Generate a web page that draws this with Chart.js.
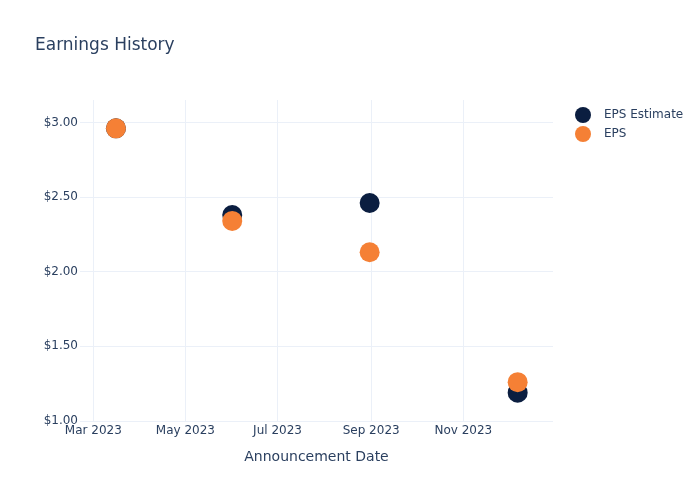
<!DOCTYPE html>
<html>
<head>
<meta charset="utf-8">
<title>Earnings History</title>
<script src="https://cdn.jsdelivr.net/npm/chart.js@4.4.1/dist/chart.umd.min.js"></script>
<style>
  body { margin: 0; background: #fff; }
</style>
</head>
<body>
<canvas id="earnings" width="700" height="500"></canvas>
<script>
// Quarterly announcements
const announceDates = ["2023-03-16", "2023-06-01", "2023-08-31", "2023-12-07"]
const epsEstimate = [2.96, 2.38, 2.46, 1.19]
const epsActual = [2.96, 2.34, 2.13, 1.26]

// Axis ticks
const xTickDates = ["2023-03-01", "2023-05-01", "2023-07-01", "2023-09-01", "2023-11-01"]
const xTickLabels = ["Mar 2023", "May 2023", "Jul 2023", "Sep 2023", "Nov 2023"]
const yTickValues = [1, 1.5, 2, 2.5, 3]
const yTickLabels = ["$1.00", "$1.50", "$2.00", "$2.50", "$3.00"]

const textColor = "#2a3f5f"
const gridColor = "#ebf0f8"
const fontFamily = '"DejaVu Sans", Verdana, sans-serif'

// Days since epoch, so a linear axis can stand in for a time axis
let dayNum = function(str) {
  let p = str.split("-").map(Number)
  return Date.UTC(p[0], p[1] - 1, p[2]) / 86400000
}

let toPoints = function(values) {
  return announceDates.map((d, i) => ({ x: dayNum(d), y: values[i] }))
}

Chart.defaults.font.family = fontFamily
Chart.defaults.font.size = 12
Chart.defaults.color = textColor

// Legend drawn to the right of the plot, plotly style
const sideLegend = {
  id: "sideLegend",
  afterDraw(chart) {
    let ctx = chart.ctx
    let area = chart.chartArea
    ctx.save()
    ctx.font = "12px " + fontFamily
    ctx.textBaseline = "middle"
    ctx.textAlign = "left"
    chart.data.datasets.forEach((ds, i) => {
      let y = area.top + 15 + i * 19
      ctx.fillStyle = ds.backgroundColor
      ctx.beginPath()
      ctx.arc(area.right + 30, y, 8, 0, Math.PI * 2)
      ctx.fill()
      ctx.fillStyle = textColor
      ctx.fillText(ds.label, area.right + 51, y)
    })
    ctx.restore()
  }
}

let config = {
  type: "scatter",
  data: {
    datasets: [{
      label: "EPS Estimate",
      data: toPoints(epsEstimate),
      backgroundColor: "#0b1e40",
      borderWidth: 0,
      pointRadius: 10,
      order: 1
    }, {
      label: "EPS",
      data: toPoints(epsActual),
      backgroundColor: "#f58035",
      borderWidth: 0,
      pointRadius: 10,
      order: 0
    }]
  },
  options: {
    responsive: false,
    animation: false,
    layout: {
      padding: { left: 35, right: 147, top: 0, bottom: 34.6 }
    },
    plugins: {
      legend: { display: false },
      tooltip: { enabled: false },
      title: {
        display: true,
        text: "Earnings History",
        align: "start",
        color: textColor,
        font: { size: 17, weight: "normal" },
        padding: { top: 35, bottom: 44.6 }
      }
    },
    scales: {
      x: {
        type: "linear",
        min: dayNum("2023-03-01") - 8.8,
        max: dayNum("2023-03-01") + 304.4,
        border: { display: false },
        grid: { color: gridColor, drawTicks: false },
        afterBuildTicks: scale => {
          scale.ticks = xTickDates.map(d => ({ value: dayNum(d) }))
        },
        ticks: {
          padding: 3,
          maxRotation: 0,
          autoSkip: false,
          callback: (value, index) => xTickLabels[index]
        },
        title: {
          display: true,
          text: "Announcement Date",
          color: textColor,
          font: { size: 14 },
          padding: { top: 7.2, bottom: 0 }
        }
      },
      y: {
        min: 1,
        max: 3.15,
        border: { display: false },
        grid: { color: gridColor, drawTicks: false },
        afterBuildTicks: scale => {
          scale.ticks = yTickValues.map(v => ({ value: v }))
        },
        afterFit: scale => {
          scale.width = 45
        },
        ticks: {
          padding: 2,
          callback: (value, index) => yTickLabels[index]
        }
      }
    }
  },
  plugins: [sideLegend]
}

new Chart("earnings", config)
</script>
</body>
</html>
